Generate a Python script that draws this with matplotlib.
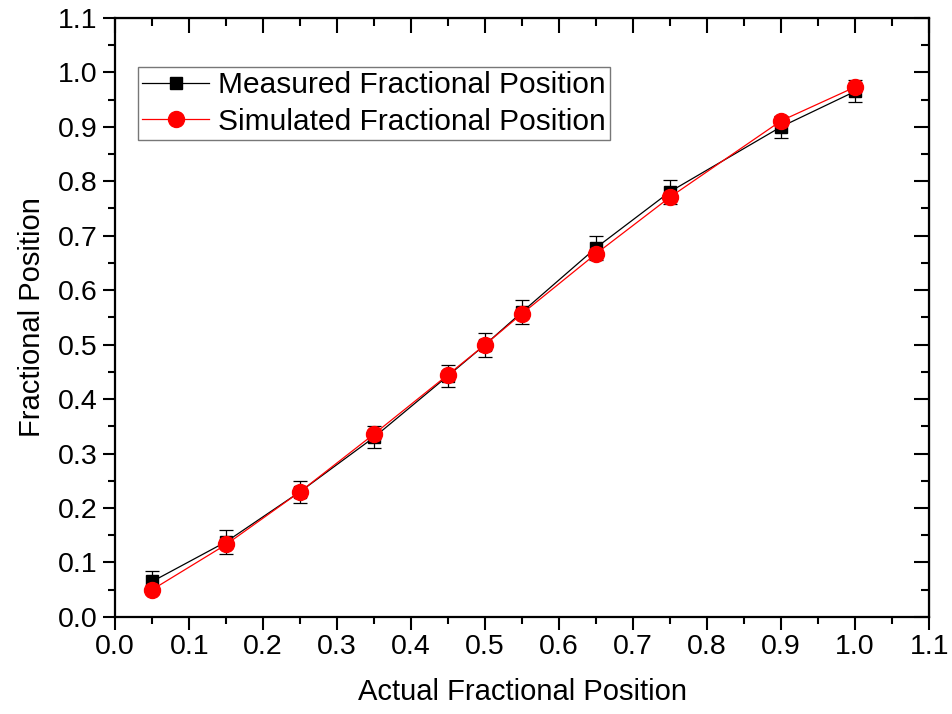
import matplotlib
matplotlib.use("Agg")
import matplotlib.pyplot as plt
from matplotlib.ticker import MultipleLocator, FormatStrFormatter
from matplotlib.lines import Line2D

# data
actual = [0.05, 0.15, 0.25, 0.35, 0.45, 0.50, 0.55, 0.65, 0.75, 0.90, 1.00]
measured = [0.065, 0.138, 0.230, 0.330, 0.443, 0.500, 0.560, 0.678, 0.781, 0.900, 0.965]
measured_err = [0.02, 0.022, 0.02, 0.02, 0.02, 0.022, 0.022, 0.022, 0.022, 0.02, 0.02]
simulated = [0.050, 0.133, 0.230, 0.336, 0.445, 0.500, 0.557, 0.667, 0.771, 0.911, 0.973]

plt.rcParams["font.family"] = ["Liberation Sans", "DejaVu Sans"]

fig = plt.figure(figsize=(9.52, 7.14), dpi=100)
ax = fig.add_axes([0.121, 0.136, 0.855, 0.839])

ax.errorbar(actual, measured, yerr=measured_err, color="black", lw=0.9,
            marker="s", markersize=9, capsize=5, elinewidth=0.9,
            capthick=0.9, zorder=2)
ax.plot(actual, simulated, color="red", lw=0.9, marker="o", markersize=11.5,
        zorder=3)

ax.set_xlim(0, 1.1)
ax.set_ylim(0, 1.1)
ax.xaxis.set_major_locator(MultipleLocator(0.1))
ax.yaxis.set_major_locator(MultipleLocator(0.1))
ax.xaxis.set_minor_locator(MultipleLocator(0.05))
ax.yaxis.set_minor_locator(MultipleLocator(0.05))
ax.xaxis.set_major_formatter(FormatStrFormatter("%.1f"))
ax.yaxis.set_major_formatter(FormatStrFormatter("%.1f"))

ax.tick_params(which="both", direction="out", width=1.5, labelsize=20.5,
               top=False, right=False)
ax.tick_params(which="major", length=9)
ax.tick_params(which="minor", length=5)
for s in ax.spines.values():
    s.set_linewidth(1.6)

# mirrored inward ticks on top/right
axt = ax.secondary_xaxis("top")
axt.xaxis.set_major_locator(MultipleLocator(0.1))
axt.xaxis.set_minor_locator(MultipleLocator(0.05))
axt.tick_params(which="both", direction="in", width=1.5, labeltop=False)
axt.tick_params(which="major", length=11)
axt.tick_params(which="minor", length=6)
axr = ax.secondary_yaxis("right")
axr.yaxis.set_major_locator(MultipleLocator(0.1))
axr.yaxis.set_minor_locator(MultipleLocator(0.05))
axr.tick_params(which="both", direction="in", width=1.5, labelright=False)
axr.tick_params(which="major", length=11)
axr.tick_params(which="minor", length=6)

ax.set_xlabel("Actual Fractional Position", fontsize=21, labelpad=13)
ax.set_ylabel("Fractional Position", fontsize=21, labelpad=9)

handles = [
    Line2D([], [], color="black", lw=0.9, marker="s", markersize=9),
    Line2D([], [], color="red", lw=0.9, marker="o", markersize=11.5),
]
labels = ["Measured Fractional Position", "Simulated Fractional Position"]
leg = ax.legend(handles, labels, loc="upper left",
                bbox_to_anchor=(0.028, 0.918), fontsize=21.5,
                frameon=True, fancybox=False, handlelength=2.23,
                borderpad=0.15, labelspacing=0.27, handletextpad=0.3,
                borderaxespad=0)
leg.get_frame().set_edgecolor("#555555")
leg.get_frame().set_linewidth(1.0)

fig.savefig("out.png", dpi=100)
